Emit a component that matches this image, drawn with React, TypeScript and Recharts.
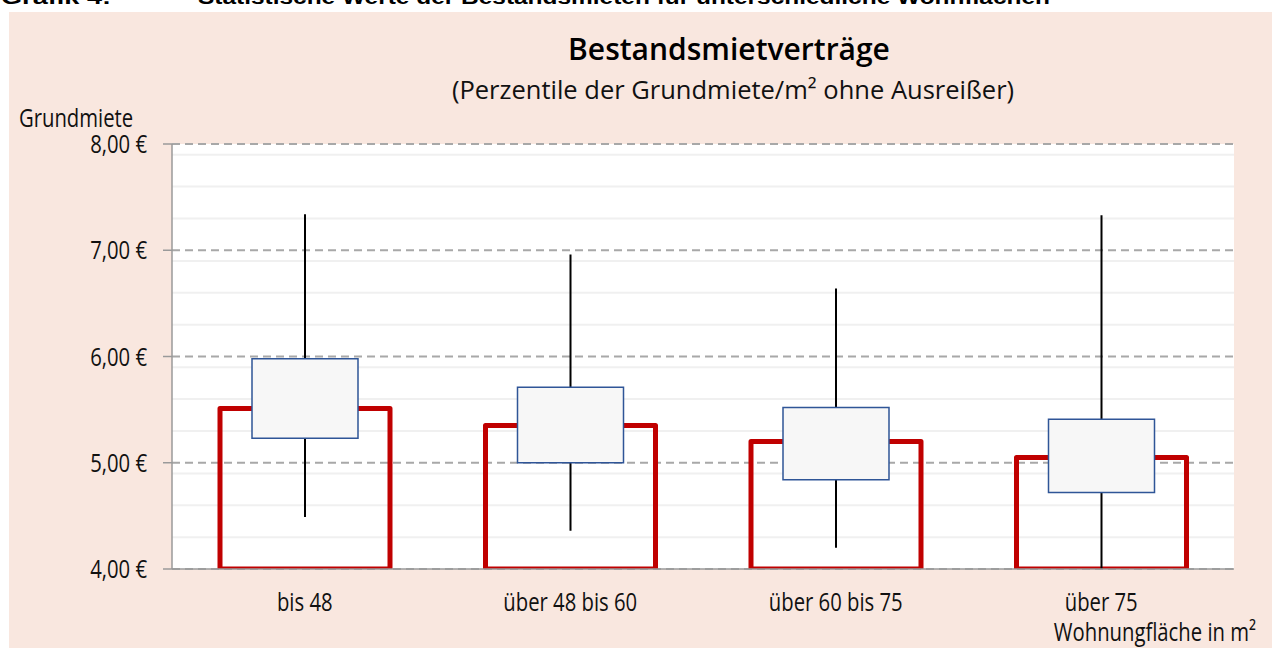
import { ComposedChart, Bar, XAxis, YAxis, CartesianGrid } from "recharts";

// Wohnfläche classes
const categories = ["bis 48", "über 48 bis 60", "über 60 bis 75", "über 75"];

// percentiles of Grundmiete/m² (€)
const whiskerLow = [4.49, 4.36, 4.2, 4.0];
const quartile1 = [5.23, 5.0, 4.84, 4.72];
const median = [5.51, 5.35, 5.2, 5.05];
const quartile3 = [5.98, 5.71, 5.52, 5.41];
const whiskerHigh = [7.34, 6.96, 6.64, 7.33];

const yTicks = [4, 5, 6, 7, 8];

const data = categories.map((cat, i) => ({
  cat,
  whisker: [whiskerLow[i], whiskerHigh[i]],
  box: [quartile1[i], quartile3[i]],
  median: median[i],
}));

// light minor gridlines every 0,10 €
const minorLines: number[] = [];
for (let v = 41; v < 80; v++) if (v % 10 !== 0) minorLines.push(v / 10);

const AXIS_FONT = "'Open Sans', 'DejaVu Sans', sans-serif";
const TITLE_FONT = "'Open Sans', 'Liberation Sans', sans-serif";
const AXIS_GREY = "#9a9a9a";
const SQUEEZE = 0.78;

function formatEuro(v: number) {
  return v.toFixed(2).replace(".", ",") + " €";
}

// condensed-looking label: real text, squeezed horizontally
function NarrowText({ x, y, anchor = "start", dy, size = 26, children }: any) {
  return (
    <g transform={`translate(${x},${y}) scale(${SQUEEZE},1)`}>
      <text x={0} y={0} dy={dy} textAnchor={anchor} fontFamily={AXIS_FONT} fontWeight={400} fontSize={size} fill="#111">
        {children}
      </text>
    </g>
  );
}

function XTick(props: any) {
  const { x, y, payload } = props;
  return (
    <NarrowText x={x} y={y} anchor="middle" dy="0.71em">
      {payload.value}
    </NarrowText>
  );
}

function YTick(props: any) {
  const { x, y, payload } = props;
  return (
    <NarrowText x={x} y={y} anchor="end" dy="0.355em">
      {formatEuro(payload.value)}
    </NarrowText>
  );
}

function MedianShape(props: any) {
  const { x, y, width, height } = props;
  const top = Math.min(y, y + height);
  const h = Math.abs(height);
  return (
    <rect
      x={x}
      y={top}
      width={width}
      height={h}
      fill="none"
      stroke="#c00000"
      strokeWidth={5}
      strokeLinejoin="round"
    />
  );
}

function WhiskerShape(props: any) {
  const { x, y, width, height } = props;
  const cx = x + width / 2;
  return <line x1={cx} x2={cx} y1={y} y2={y + height} stroke="#000" strokeWidth={2} />;
}

export default function App() {
  return (
    <div style={{ position: "absolute", left: 0, top: 0, width: 1272, height: 648, overflow: "hidden", background: "#fff" }}>
      <div style={{ position: "absolute", left: 9, top: 12, width: 1263, height: 636, background: "#f9e7df" }} />
      <svg width={1272} height={648} style={{ position: "absolute", left: 0, top: 0 }}>
        <text
          x={1}
          y={4}
          fontFamily="'Liberation Sans', sans-serif"
          fontWeight="bold"
          fontSize={20}
          fill="#000"
          textLength={110}
          lengthAdjust="spacingAndGlyphs"
        >
          Grafik 4:
        </text>
        <text
          x={198}
          y={4}
          fontFamily="'Liberation Sans', sans-serif"
          fontWeight="bold"
          fontSize={20}
          fill="#000"
          textLength={852}
          lengthAdjust="spacingAndGlyphs"
        >
          Statistische Werte der Bestandsmieten für unterschiedliche Wohnflächen
        </text>
        <text x={729} y={60} textAnchor="middle" fontFamily={TITLE_FONT} fontWeight={600} fontSize={30} fill="#000">
          Bestandsmietverträge
        </text>
        <text x={733} y={99} textAnchor="middle" fontFamily={TITLE_FONT} fontSize={25.5} fill="#111">
          (Perzentile der Grundmiete/m² ohne Ausreißer)
        </text>
        <NarrowText x={19} y={127}>
          Grundmiete
        </NarrowText>
        <NarrowText x={1256} y={641} anchor="end">
          Wohnungfläche in m²
        </NarrowText>
      </svg>
      <div style={{ position: "absolute", left: 0, top: 0 }}>
        <ComposedChart
          width={1272}
          height={648}
          data={data}
          margin={{ top: 144, right: 38, bottom: 49, left: 0 }}
        >
          <CartesianGrid
            vertical={false}
            fill="#ffffff"
            stroke="#f0f0f0"
            strokeWidth={2}
            horizontalValues={minorLines}
          />
          <CartesianGrid vertical={false} stroke="#a8a8a8" strokeWidth={2} strokeDasharray="8 5" />
          <XAxis
            dataKey="cat"
            height={30}
            tickLine={false}
            tickSize={0}
            tickMargin={24}
            axisLine={{ stroke: AXIS_GREY, strokeWidth: 1.5 }}
            tick={<XTick />}
          />
          <XAxis xAxisId="w" dataKey="cat" hide />
          <XAxis xAxisId="m" dataKey="cat" hide />
          <YAxis
            domain={[4, 8]}
            ticks={yTicks}
            width={172}
            tickSize={9}
            tickMargin={16}
            axisLine={{ stroke: AXIS_GREY, strokeWidth: 1.5 }}
            tickLine={{ stroke: AXIS_GREY, strokeWidth: 1.5 }}
            tick={<YTick />}
            allowDataOverflow
          />
          <YAxis
            yAxisId="right"
            orientation="right"
            domain={[4, 8]}
            width={0}
            tick={false}
            tickLine={false}
            axisLine={{ stroke: "#d9d9d9", strokeWidth: 1.5 }}
          />
          <Bar xAxisId="m" dataKey="median" barSize={170} shape={MedianShape} isAnimationActive={false} />
          <Bar xAxisId="w" dataKey="whisker" barSize={10} shape={WhiskerShape} isAnimationActive={false} />
          <Bar dataKey="box" barSize={106} fill="#f7f7f7" stroke="#2f5597" strokeWidth={1.5} isAnimationActive={false} />
        </ComposedChart>
      </div>
    </div>
  );
}
